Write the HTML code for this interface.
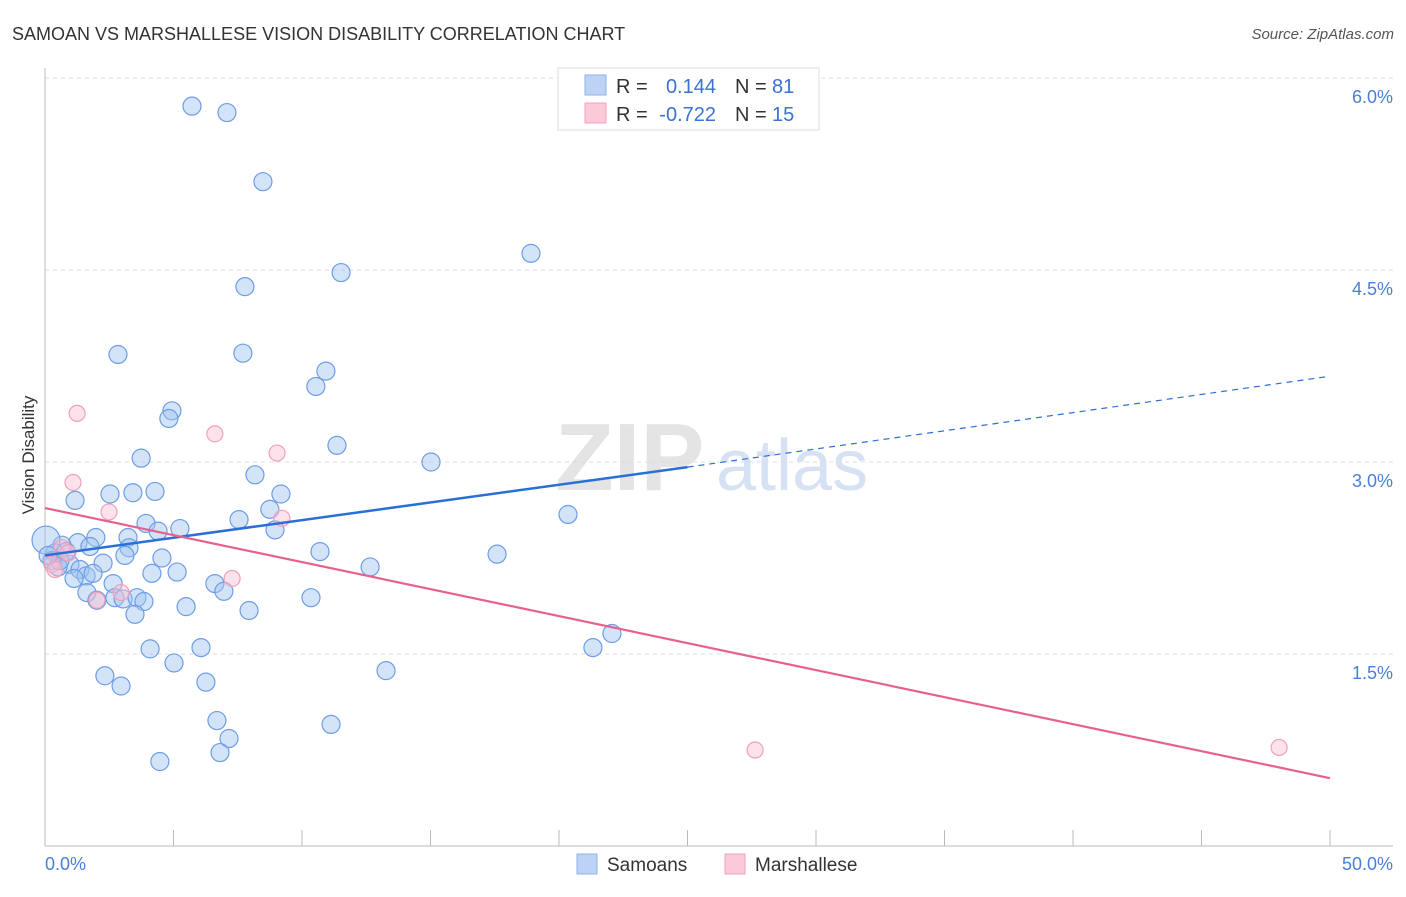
<!DOCTYPE html>
<html><head><meta charset="utf-8"><style>
body{margin:0;background:#fff;font-family:"Liberation Sans",sans-serif;}
svg text{font-family:"Liberation Sans",sans-serif;}
</style></head><body>
<svg id="chart" width="1406" height="892" xmlns="http://www.w3.org/2000/svg">
<text x="12" y="40" font-size="18" fill="#333">SAMOAN VS MARSHALLESE VISION DISABILITY CORRELATION CHART</text>
<text x="1394" y="39" font-size="15" fill="#555" font-style="italic" text-anchor="end">Source: ZipAtlas.com</text>
<text transform="translate(34,455) rotate(-90)" font-size="17" fill="#333" text-anchor="middle">Vision Disability</text>
<g>
<text x="555" y="490" font-size="96" fill="#e4e4e4" font-family="Liberation Serif" font-weight="bold">ZIP</text>
<text x="716" y="490" font-size="72" fill="#d6e2f3">atlas</text>
</g>
<g id="grid"></g>
<g id="axes"></g>
<g id="pts"></g>
<g id="lines"></g>
<g>
<rect x="558" y="68" width="261" height="62" fill="#fff" stroke="#ddd"/>
<rect x="585" y="75" width="21" height="20" fill="#bcd3f5" stroke="#8fb1e8"/>
<rect x="585" y="103" width="21" height="20" fill="#fcc9d8" stroke="#f0a3bb"/>
<text x="616" y="93" font-size="20" fill="#333">R =</text>
<text x="716" y="93" font-size="20" fill="#3a72d0" text-anchor="end">0.144</text>
<text x="735" y="93" font-size="20" fill="#333">N =</text>
<text x="772" y="93" font-size="20" fill="#3a72d0">81</text>
<text x="616" y="121" font-size="20" fill="#333">R =</text>
<text x="716" y="121" font-size="20" fill="#3a72d0" text-anchor="end">-0.722</text>
<text x="735" y="121" font-size="20" fill="#333">N =</text>
<text x="772" y="121" font-size="20" fill="#3a72d0">15</text>
</g>
<g>
<rect x="577" y="854" width="20" height="20" fill="#bcd3f5" stroke="#8fb1e8"/>
<text x="607" y="871" font-size="19" fill="#333">Samoans</text>
<rect x="725" y="854" width="20" height="20" fill="#fcc9d8" stroke="#f0a3bb"/>
<text x="755" y="871" font-size="19" fill="#333">Marshallese</text>
</g>
</svg>
<script>
const blueX=[5.72,7.08,8.48,18.91,11.52,7.78,2.84,7.70,10.93,10.54,4.94,4.82,11.36,3.74,15.02,8.17,1.17,2.53,3.42,4.28,9.18,8.75,7.55,20.35,3.93,5.25,4.40,8.95,1.98,1.28,3.23,1.75,3.27,0.66,0.39,0.04,10.70,17.59,4.55,3.11,2.26,0.97,1.36,1.60,1.87,4.16,5.14,12.65,0.27,0.51,1.13,2.65,6.61,6.96,1.63,2.02,2.72,3.04,3.58,3.85,5.49,10.35,7.94,3.50,22.06,21.32,4.09,6.07,5.02,13.27,2.33,6.26,2.96,6.69,11.13,7.16,6.81,4.47,0.82,0.58,0.12];
const blueY=[5.78,5.73,5.19,4.63,4.48,4.37,3.84,3.85,3.71,3.59,3.40,3.34,3.13,3.03,3.00,2.90,2.70,2.75,2.76,2.77,2.75,2.63,2.55,2.59,2.52,2.48,2.46,2.47,2.41,2.37,2.41,2.34,2.33,2.35,2.29,2.39,2.30,2.28,2.25,2.27,2.21,2.20,2.16,2.11,2.13,2.13,2.14,2.18,2.23,2.18,2.09,2.05,2.05,1.99,1.98,1.92,1.94,1.93,1.94,1.91,1.87,1.94,1.84,1.81,1.66,1.55,1.54,1.55,1.43,1.37,1.33,1.28,1.25,0.98,0.95,0.84,0.73,0.66,2.30,2.23,2.27];
const pinkX=[1.25,6.61,9.03,1.09,2.49,9.22,7.28,2.96,2.02,0.66,0.89,0.27,0.39,27.63,48.02];
const pinkY=[3.38,3.22,3.07,2.84,2.61,2.56,2.09,1.98,1.92,2.33,2.29,2.20,2.16,0.75,0.77];
const blueTrendX=[0,25,50];
const blueTrendY=[2.27,2.96,3.67];
const pinkTrendX=[0,50];
const pinkTrendY=[2.64,0.53];
const yTicks=[1.5,3.0,4.5,6.0];
const yTickLabels=["1.5%","3.0%","4.5%","6.0%"];
const xTickCount=10;
const xLabels=["0.0%","50.0%"];

const X=v=>45+v*25.7, Y=v=>846-v*128;
const NS="http://www.w3.org/2000/svg";
function mk(tag,attrs,parent){const e=document.createElementNS(NS,tag);for(const k in attrs)e.setAttribute(k,attrs[k]);parent.appendChild(e);return e;}
const grid=document.getElementById('grid'),axes=document.getElementById('axes'),pts=document.getElementById('pts'),lines=document.getElementById('lines');
yTicks.forEach((t,i)=>{
 const l=mk('line',{x1:45,x2:1393,y1:Y(t),y2:Y(t),stroke:'#ddd','stroke-dasharray':'4,4'},grid);
 
 
 const tx=mk('text',{x:1393,y:Y(t)+25,'font-size':18,fill:'#4a7fd6','text-anchor':'end'},grid);
 tx.textContent=yTickLabels[i];
 
 
});
const ax=mk('line',{x1:45,x2:1393,y1:846,y2:846,stroke:'#bbb'},axes);


const ay=mk('line',{x1:45,x2:45,y1:68,y2:846,stroke:'#bbb'},axes);


for(let i=0;i<=xTickCount;i++){
 const v=i*50/xTickCount;
 const t=mk('line',{x1:X(v),x2:X(v),y1:830,y2:846,stroke:'#bbb'},axes);
 
 
}
const xl0=mk('text',{x:45,y:870,'font-size':18,fill:'#4a7fd6'},axes);xl0.textContent=xLabels[0];


const xl1=mk('text',{x:1393,y:870,'font-size':18,fill:'#4a7fd6','text-anchor':'end'},axes);xl1.textContent=xLabels[1];


blueX.forEach((x,i)=>{
 const c=mk('circle',{cx:X(x),cy:Y(blueY[i]),r:(i==35?14:9),fill:'rgba(160,195,240,0.45)',stroke:'#6d9de6','stroke-width':1.2},pts);
 
 
});
pinkX.forEach((x,i)=>{
 const c=mk('circle',{cx:X(x),cy:Y(pinkY[i]),r:8,fill:'rgba(250,190,210,0.45)',stroke:'#f0a0ba','stroke-width':1.2},pts);
 
 
});
const b1=mk('line',{x1:X(blueTrendX[0]),y1:Y(blueTrendY[0]),x2:X(blueTrendX[1]),y2:Y(blueTrendY[1]),stroke:'#2a6fd6','stroke-width':2.5},lines);


const b2=mk('line',{x1:X(blueTrendX[1]),y1:Y(blueTrendY[1]),x2:X(blueTrendX[2]),y2:Y(blueTrendY[2]),stroke:'#2a6fd6','stroke-width':1.2,'stroke-dasharray':'6,5'},lines);


const p1=mk('line',{x1:X(pinkTrendX[0]),y1:Y(pinkTrendY[0]),x2:X(pinkTrendX[1]),y2:Y(pinkTrendY[1]),stroke:'#e8608e','stroke-width':2.2},lines);


</script>
</body></html>
